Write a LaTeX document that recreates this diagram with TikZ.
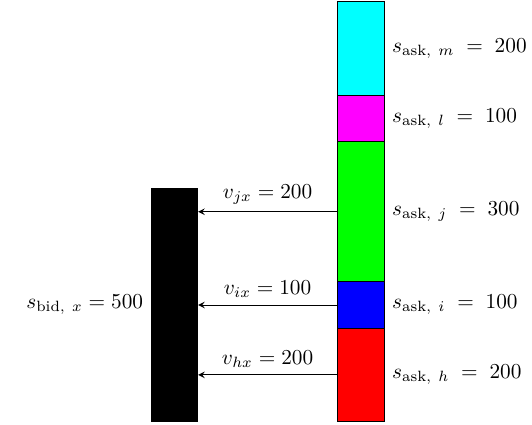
\documentclass[tikz,border=0pt]{standalone}
\usepackage{amsmath, amssymb}
\usepackage{tikz}

\definecolor{askcyan}{RGB}{0,255,255}
\definecolor{askmagenta}{RGB}{255,0,255}

\begin{document}
\begin{tikzpicture}[
				x=0.77cm, y=0.77cm,
				seg/.style 2 args={draw, fill=#1, anchor=south west, inner sep=0pt, minimum width=0.77cm, minimum height=#2*0.77cm},
				flow/.style={-stealth}
				]
				
				\useasboundingbox (-7.23, -0.05) rectangle (4.18, 9.05);
				
				% ask side
				\node[seg={red}{2}, label=right:{$s_{\text{ask},\ h} \;=\; 200$}] (h) at (0, 0) {};
				\node[seg={blue}{1}, label=right:{$s_{\text{ask},\ i} \;=\; 100$}] (i) at (0, 2) {};
				\node[seg={green}{3}, label=right:{$s_{\text{ask},\ j} \;=\; 300$}] (j) at (0, 3) {};
				\node[seg={askmagenta}{1}, label=right:{$s_{\text{ask},\ l} \;=\; 100$}] (l) at (0, 6) {};
				\node[seg={askcyan}{2}, label=right:{$s_{\text{ask},\ m} \;=\; 200$}] (m) at (0, 7) {};
				
				% bid side
				\node[seg={black}{5}, label=left:{$s_{\text{bid},\ x} = 500$}] (x) at (-4, 0) {};
				
				\draw[flow] (h.west) -- (h.west -| x.east) node[midway, above] {$v_{hx} = 200$};
				\draw[flow] (i.west) -- (i.west -| x.east) node[midway, above] {$v_{ix} = 100$};
				\draw[flow] (j.west) -- (j.west -| x.east) node[midway, above] {$v_{jx} = 200$};
				
			\end{tikzpicture}
\end{document}
